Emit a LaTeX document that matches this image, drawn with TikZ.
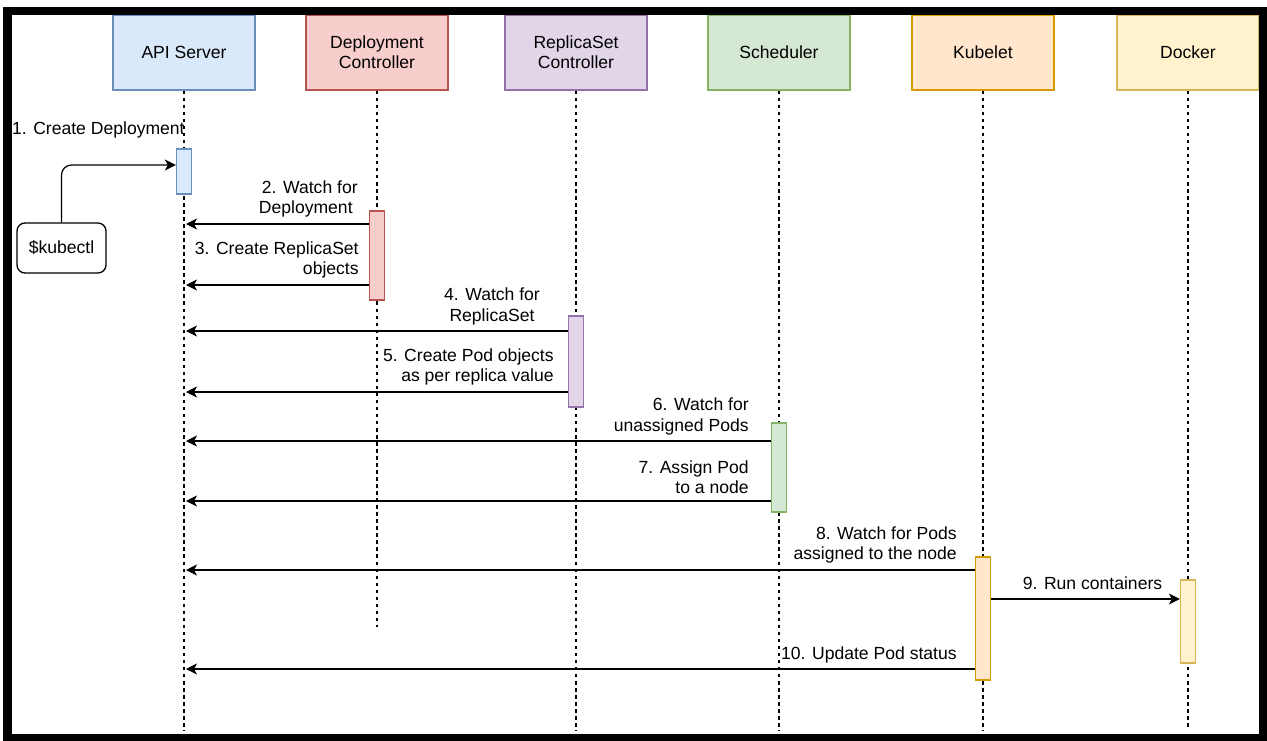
\documentclass[tikz,border=0pt]{standalone}
\usepackage{fontspec}
\setmainfont{Liberation Sans}
\usepackage{xcolor}
\usetikzlibrary{positioning,arrows.meta,calc}
\definecolor{apiFill}{HTML}{DAE8FC}\definecolor{apiLine}{HTML}{6C8EBF}
\definecolor{depFill}{HTML}{F8CECC}\definecolor{depLine}{HTML}{B85450}
\definecolor{rsFill}{HTML}{E1D5E7}\definecolor{rsLine}{HTML}{9673A6}
\definecolor{schFill}{HTML}{D5E8D4}\definecolor{schLine}{HTML}{82B366}
\definecolor{kubFill}{HTML}{FFE6CC}\definecolor{kubLine}{HTML}{D79B00}
\definecolor{dockFill}{HTML}{FFF2CC}\definecolor{dockLine}{HTML}{D6B656}
\tikzset{
  msg/.style={-{Stealth[length=0.22cm,width=0.22cm,inset=0.06cm]}, line width=0.7pt, draw=black},
  every node/.style={anchor=center}
}

\begin{document}
\begin{tikzpicture}[
    x=0.02cm, y=-0.02cm,
    font=\fontsize{10}{11.5}\selectfont,
    head/.style={draw, line width=0.75pt, minimum width=2.84cm, minimum height=1.5cm, align=center},
    bar/.style={draw, line width=0.75pt, minimum width=0.3cm, inner sep=0pt},
    life/.style={line width=0.6pt, draw=black, dash pattern=on 2pt off 2pt},
    lbl/.style={inner sep=0pt, align=right, anchor=east}
  ]
  \useasboundingbox (0,0) rectangle (1267,740);

  % header boxes
  \node[head, fill=apiFill, draw=apiLine]   (api)  at (184,52.5)  {API Server};
  \node[head, fill=depFill, draw=depLine]   (dep)  at (377,52.5)  {Deployment\\Controller};
  \node[head, fill=rsFill, draw=rsLine]     (rs)   at (576,52.5)  {ReplicaSet\\Controller};
  \node[head, fill=schFill, draw=schLine]   (sch)  at (779,52.5)  {Scheduler};
  \node[head, fill=kubFill, draw=kubLine]   (kub)  at (983,52.5)  {Kubelet};
  \node[head, fill=dockFill, draw=dockLine] (dock) at (1188,52.5) {Docker};

  % lifelines
  \coordinate (apiEnd)  at (184,731);
  \coordinate (depEnd)  at (377,627);
  \coordinate (rsEnd)   at (576,731);
  \coordinate (schEnd)  at (779,731);
  \coordinate (kubEnd)  at (983,731);
  \coordinate (dockEnd) at (1188,729);
  \draw[life] (api.south)  -- (apiEnd);
  \draw[life] (dep.south)  -- (depEnd);
  \draw[life] (rs.south)   -- (rsEnd);
  \draw[life] (sch.south)  -- (schEnd);
  \draw[life] (kub.south)  -- (kubEnd);
  \draw[life] (dock.south) -- (dockEnd);

  % activation bars
  \node[bar, fill=apiFill, draw=apiLine, minimum height=0.9cm]    (apiBar)  at (184,171.5)  {};
  \node[bar, fill=depFill, draw=depLine, minimum height=1.78cm]   (depBar)  at (377,255.5)  {};
  \node[bar, fill=rsFill, draw=rsLine, minimum height=1.82cm]     (rsBar)   at (576,361.5)  {};
  \node[bar, fill=schFill, draw=schLine, minimum height=1.78cm]   (schBar)  at (779,467.5)  {};
  \node[bar, fill=kubFill, draw=kubLine, minimum height=2.46cm]   (kubBar)  at (983,618.5)  {};
  \node[bar, fill=dockFill, draw=dockLine, minimum height=1.66cm] (dockBar) at (1188,621.5) {};

  % client
  \node[draw, line width=0.75pt, rounded corners=0.16cm, minimum width=1.78cm, minimum height=1cm] (kubectl) at (61.5,248) {\$kubectl};

  % message ends on the API lifeline
  \coordinate (a2)  at (186,224);
  \coordinate (a3)  at (186,285);
  \coordinate (a4)  at (186,331);
  \coordinate (a5)  at (186,392);
  \coordinate (a6)  at (186,441);
  \coordinate (a7)  at (186,501);
  \coordinate (a8)  at (186,570);
  \coordinate (a10) at (186,669);
  \coordinate (d9)  at (dockBar.west |- 0,599);

  % messages
  \draw[msg, rounded corners=0.2cm] (kubectl.north) |- ([yshift=0.13cm]apiBar.west);
  \draw[msg] (depBar.west |- a2)  -- (a2);
  \draw[msg] (depBar.west |- a3)  -- (a3);
  \draw[msg] (rsBar.west |- a4)   -- (a4);
  \draw[msg] (rsBar.west |- a5)   -- (a5);
  \draw[msg] (schBar.west |- a6)  -- (a6);
  \draw[msg] (schBar.west |- a7)  -- (a7);
  \draw[msg] (kubBar.west |- a8)  -- (a8);
  \draw[msg] (kubBar.east |- d9)  -- (d9);
  \draw[msg] (kubBar.west |- a10) -- (a10);

  % labels
  \node[lbl] (l1)  at (185,130)   {1. Create Deployment};
  \node[lbl] (l2)  at (358,199)   {2. Watch for\\Deployment\rule{0.1cm}{0pt}};
  \node[lbl] (l3)  at (359,260)   {3. Create ReplicaSet\\objects};
  \node[lbl, anchor=center, align=center] (l4) at (492,306.5) {4. Watch for\\ReplicaSet};
  \node[lbl] (l5)  at (554,367)   {5. Create Pod objects\\as per replica value};
  \node[lbl] (l6)  at (749,416.5) {6. Watch for\\unassigned Pods};
  \node[lbl] (l7)  at (749,477.5) {7. Assign Pod\\to a node};
  \node[lbl] (l8)  at (957,545)   {8. Watch for Pods\\assigned to the node};
  \node[lbl, anchor=center] (l9) at (1092.5,583) {9. Run containers};
  \node[lbl] (l10) at (957,655)   {10. Update Pod status};

  % outer frame
  \draw[line width=0.17cm] (7.5,11) rectangle (1263,738);
\end{tikzpicture}
\end{document}
